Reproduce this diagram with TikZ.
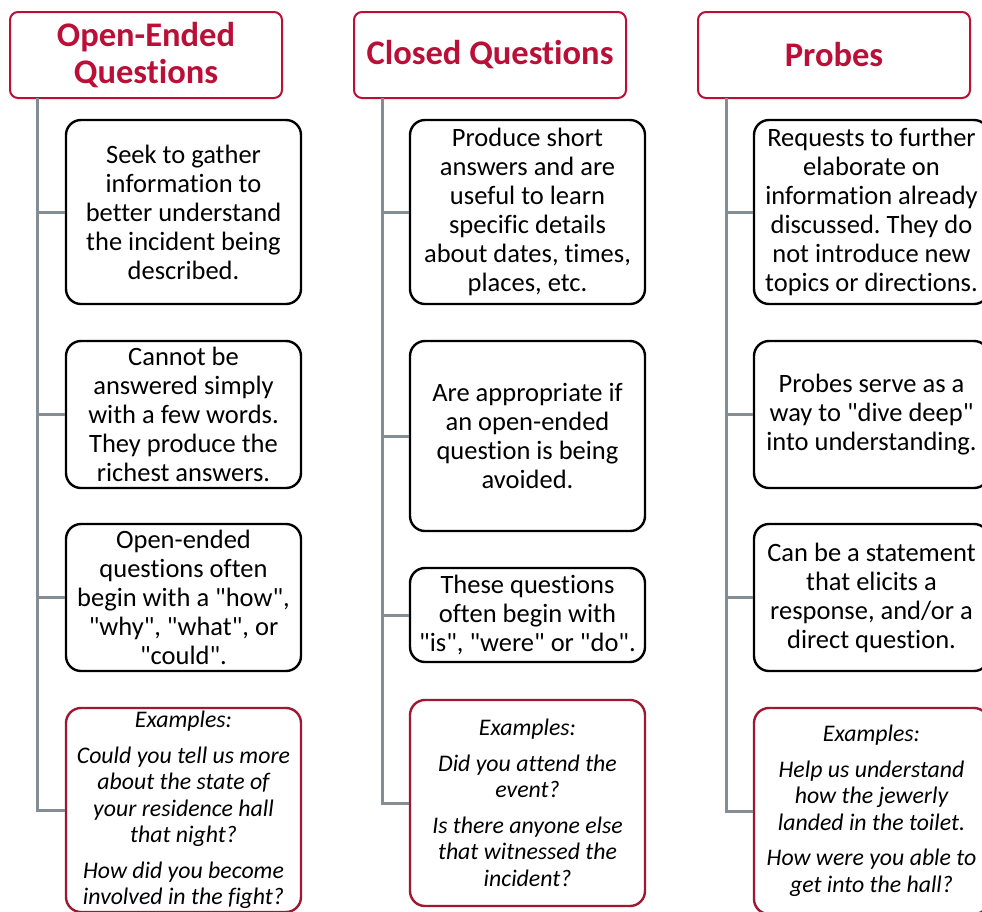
\documentclass[tikz,border=0pt]{standalone}
\usepackage{fontspec}
\setmainfont{Carlito}[Ligatures={TeXOff,NoCommon}]
\frenchspacing
\definecolor{hdred}{RGB}{186,16,56}
\definecolor{exred}{RGB}{158,24,50}
\definecolor{linegray}{RGB}{132,140,148}
\begin{document}
\begin{tikzpicture}[x=1pt,y=-1pt,
  header/.style={draw=hdred,line width=2pt,rounded corners=8pt,fill=white,
    minimum width=272pt,minimum height=86pt,align=center,text=hdred,
    font=\fontsize{34.5}{37}\selectfont\bfseries,inner sep=0pt},
  infobox/.style={draw=black,line width=2.4pt,rounded corners=15pt,fill=white,
    minimum width=235pt,align=center,inner sep=0pt,
    font=\fontsize{26.5}{29}\selectfont},
  exbox/.style={draw=exred,line width=2.4pt,rounded corners=15pt,fill=white,
    minimum width=235pt,align=center,inner sep=0pt,
    font=\fontsize{23.8}{26.5}\selectfont\itshape},
  branch/.style={draw=linegray,line width=3pt}]
\useasboundingbox (0,0) rectangle (982,911);
% headers
\node[header] (h1) at (146,55) {Open-Ended\\Questions};
\node[header] (h2) at (490,55) {Closed Questions};
\node[header] (h3) at (834,55) {Probes};
\coordinate (t1) at (37,98);
\coordinate (t2) at (382,98);
\coordinate (t3) at (726,98);
% column 1
\node[infobox,minimum height=184pt] (a1) at (183.5,212) {Seek to gather\\information to\\better understand\\the incident being\\described.};
\node[infobox,minimum height=147pt] (a2) at (183.5,414.5) {Cannot be\\answered simply\\with a few words.\\They produce the\\richest answers.};
\node[infobox,minimum height=147pt] (a3) at (183.5,597.5) {Open-ended\\questions often\\begin with a "how",\\"why", "what", or\\"could".};
\node[exbox,minimum height=204pt] (a4) at (183.5,810) {Examples:\\[9pt]Could you tell us more\\about the state of\\your residence hall\\that night?\\[9pt]How did you become\\involved in the fight?};
% column 2
\node[infobox,minimum height=184pt] (b1) at (527.5,212) {Produce short\\answers and are\\useful to learn\\specific details\\about dates, times,\\places, etc.};
\node[infobox,minimum height=190pt] (b2) at (527.5,436) {Are appropriate if\\an open-ended\\question is being\\avoided.};
\node[infobox,minimum height=94pt] (b3) at (527.5,615) {These questions\\often begin with\\"is", "were" or "do".};
\node[exbox,minimum height=206pt] (b4) at (527.5,803) {Examples:\\[9pt]Did you attend the\\event?\\[9pt]Is there anyone else\\that witnessed the\\incident?};
% column 3
\node[infobox,minimum height=184pt] (c1) at (871.5,212) {Requests to further\\elaborate on\\information already\\discussed. They do\\not introduce new\\topics or directions.};
\node[infobox,minimum height=147pt] (c2) at (871.5,414.5) {Probes serve as a\\way to "dive deep"\\into understanding.};
\node[infobox,minimum height=147pt] (c3) at (871.5,597.5) {Can be a statement\\that elicits a\\response, and/or a\\direct question.};
\node[exbox,minimum height=206pt] (c4) at (871.5,811) {Examples:\\[9pt]Help us understand\\how the jewerly\\landed in the toilet.\\[9pt]How were you able to\\get into the hall?};
% connectors
\foreach \t/\c in {t1/a,t2/b,t3/c}{
  \foreach \i in {1,...,4}{
    \draw[branch] (\t) |- (\c\i.west);
  }
}
\end{tikzpicture}
\end{document}
